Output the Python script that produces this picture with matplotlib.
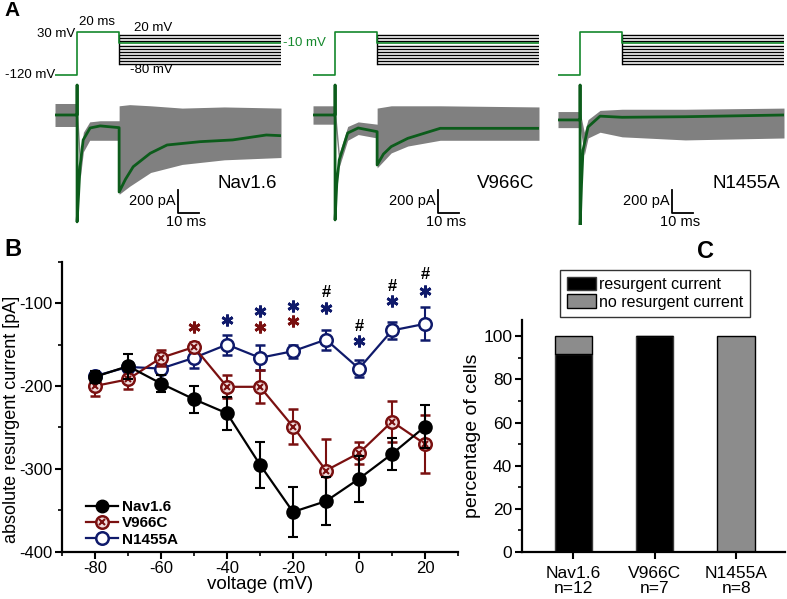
import matplotlib
matplotlib.use('Agg')
import matplotlib.pyplot as plt
from matplotlib.lines import Line2D
from matplotlib.legend_handler import HandlerTuple
from matplotlib.ticker import MultipleLocator

plt.rcParams['font.family'] = ['Liberation Sans', 'DejaVu Sans']
plt.rcParams['axes.unicode_minus'] = False

# ---------------- data: panel A (traces, keypoints) ----------
construct_names = ['Nav1.6', 'V966C', 'N1455A']
tail_levels = [20, 10, 0, -10, -20, -30, -40, -50, -60, -70, -80]
hold_mv = -120
prepulse_mv = 30
prepulse_ms = 20
green_level = -10

nav_green_t = [-10.5, 0, 0, 0, 0.7, 1.4, 2.9, 6.2, 11, 20, 20, 23, 26.7, 34.8, 42.8, 58.6, 74, 90, 97]
nav_green_i = [0, 0, 260, -930, -700, -450, -217, -113, -95, -110, -670, -560, -450, -333, -261, -232, -217, -174, -180]
nav_gray_t = [-10.5, 0, 0.01, 1.5, 3, 6, 11, 20, 20.01, 25, 35, 50, 70, 97]
nav_gray_hi = [100, 100, 100, -350, -150, -60, -50, -50, 80, 90, 80, 60, 70, 60]
nav_gray_lo = [-100, -100, -100, -550, -320, -220, -220, -220, -690, -620, -500, -430, -390, -370]

v9_green_t = [-10.5, 0, 0, 0, 0.8, 2, 6, 11, 20, 20, 23, 26.7, 34.6, 50, 74, 97]
v9_green_i = [0, 0, 260, -913, -600, -390, -157, -113, -145, -435, -340, -275, -203, -116, -116, -116]
v9_gray_t = [-10.5, 0, 0.01, 2, 6, 11, 20, 20.01, 26.7, 34.6, 50, 97]
v9_gray_hi = [80, 80, 80, -330, -100, -60, -80, 60, 80, 80, 80, 70]
v9_gray_lo = [-80, -80, -80, -450, -220, -170, -200, -460, -330, -270, -220, -220]

n14_green_t = [-10.5, 0, 0, 0, 0.7, 1.4, 3.8, 9.5, 20, 50, 97]
n14_green_i = [-43, -43, 260, -983, -600, -305, -104, -10, -20, -15, 0]
n14_gray_t = [-10.5, 0, 0.01, 2, 3.8, 9.5, 20, 50, 97]
n14_gray_hi = [30, 30, 30, -150, -40, 40, 50, 50, 60]
n14_gray_lo = [-110, -110, -110, -350, -200, -150, -190, -217, -200]

scalebar_t = [48, 49, 43.6]

# ---------------- data: panel B ----------------
voltage = [-80, -70, -60, -50, -40, -30, -20, -10, 0, 10, 20]
nav16 = [-189, -176, -197, -216, -233, -295, -352, -339, -312, -282, -249]
nav16_err = [7, 15, 10, 16, 20, 28, 30, 29, 28, 19, 26]
v966c = [-200, -192, -166, -153, -201, -201, -249, -302, -281, -243, -270]
v966c_err = [12, 12, 10, 6, 14, 20, 21, 38, 13, 25, 35]
n1455a = [-188, -177, -179, -166, -150, -166, -158, -144, -179, -133, -125]
n1455a_err = [5, 6, 6, 12, 12, 15, 8, 12, 10, 10, 20]

star_blue_x = [-40, -30, -20, -10, 0, 10, 20]
star_blue_y = [-120, -110, -104, -106, -146, -98, -85]
star_red_x = [-50, -30, -20]
star_red_y = [-129, -129, -122]
hash_x = [-10, 0, 10, 20]
hash_y = [-87, -128, -80, -66]

# ---------------- data: panel C ----------------
c_categories = ['Nav1.6\nn=12', 'V966C\nn=7', 'N1455A\nn=8']
c_resurgent = [91.7, 100, 0]
c_no_resurgent = [8.3, 0, 100]

# ---------------- styling ----------------
GREEN = '#14882c'
GREEN_TR = '#0c5c1b'
GRAY = '#808080'
RED = '#7a1010'
NAVY = '#0f1a6b'

W, H = 787, 599
fig = plt.figure(figsize=(W / 100, H / 100), dpi=100)


def fx(px):
    return px / W


def fh(py):
    return py / H


def fy(py):
    return 1 - py / H


# ---------------- Panel A ----------------
lefts = [55, 313, 558]
greens = [(nav_green_t, nav_green_i), (v9_green_t, v9_green_i), (n14_green_t, n14_green_i)]
grays = [(nav_gray_t, nav_gray_hi, nav_gray_lo), (v9_gray_t, v9_gray_hi, v9_gray_lo),
         (n14_gray_t, n14_gray_hi, n14_gray_lo)]
t_end = 97
t_start = -10.5
for k, L in enumerate(lefts):
    axp = fig.add_axes([fx(L), fy(80), fx(226), fh(65)])
    axp.set_xlim(t_start, t_end)
    axp.set_ylim(-137.4, 89.2)
    axp.axis('off')
    for lv in tail_levels:
        if lv != green_level:
            axp.plot([prepulse_ms, t_end], [lv, lv], color='black', lw=1.0, solid_capstyle='butt')
    axp.plot([prepulse_ms, prepulse_ms], [max(tail_levels), min(tail_levels)], color='black', lw=1.0)
    axp.plot([t_start, 0, 0, prepulse_ms, prepulse_ms, t_end],
             [hold_mv, hold_mv, prepulse_mv, prepulse_mv, green_level, green_level],
             color=GREEN, lw=1.2)
    if k == 0:
        axp.text(-1, 24, '30 mV', ha='right', va='center', fontsize=9.5)
        axp.text(9.5, 66, '20 ms', ha='center', va='center', fontsize=9.5)
        axp.text(36, 44, '20 mV', ha='center', va='center', fontsize=9.5)
        axp.text(35.5, -103, '-80 mV', ha='center', va='center', fontsize=9.5)
        axp.text(t_start, hold_mv, '-120 mV', ha='right', va='center', fontsize=9.5)
        axp.text(98, green_level, '-10 mV', ha='left', va='center', fontsize=9.5, color=GREEN)

    axc = fig.add_axes([fx(L), fy(225), fx(226), fh(143)])
    axc.set_xlim(t_start, t_end)
    axc.set_ylim(-957, 287)
    axc.axis('off')
    gt, ghi, glo = grays[k]
    axc.fill_between(gt, glo, ghi, color=GRAY, lw=0)
    tt, ii = greens[k]
    axc.plot(tt, ii, color=GREEN_TR, lw=2.0)
    axc.text(95, -592, construct_names[k], ha='right', va='center', fontsize=13.5)
    sb = scalebar_t[k]
    axc.plot([sb, sb, sb + 10], [-652, -852, -852], color='black', lw=1.3)
    axc.text(sb - 1, -745, '200 pA', ha='right', va='center', fontsize=10.5)
    axc.text(sb + 4, -935, '10 ms', ha='center', va='center', fontsize=10.5)

fig.text(fx(4), fy(10), 'A', fontsize=15, fontweight='bold', va='center', ha='left')

# ---------------- Panel B ----------------
axb = fig.add_axes([fx(62), fy(551.7), fx(396), fh(290)])
mk = 9
axb.errorbar(voltage, n1455a, yerr=n1455a_err, color=NAVY, marker='o', ms=mk, mfc='white',
             mew=1.8, lw=1.6, capsize=3.5, capthick=1.5, elinewidth=1.5, zorder=2)
axb.errorbar(voltage, v966c, yerr=v966c_err, color=RED, marker='o', ms=mk, mfc='#f2dede',
             mew=1.8, lw=1.6, capsize=3.5, capthick=1.5, elinewidth=1.5, zorder=3)
axb.plot(voltage, v966c, ls='none', marker='x', color=RED, ms=5, mew=1.5, zorder=4)
axb.errorbar(voltage, nav16, yerr=nav16_err, color='black', marker='o', ms=mk,
             mew=1.5, lw=1.6, capsize=3.5, capthick=1.5, elinewidth=1.5, zorder=5)

axb.plot(star_blue_x, star_blue_y, ls='none', marker=(6, 2, 0), ms=8.5, mew=2.0, color=NAVY)
axb.plot(star_red_x, star_red_y, ls='none', marker=(6, 2, 0), ms=8.5, mew=2.0, color=RED)
for hx, hy in zip(hash_x, hash_y):
    axb.text(hx, hy, '#', ha='center', va='center', fontsize=12, fontweight='bold')

axb.set_xlim(-90, 30)
axb.set_ylim(-400, -50)
axb.xaxis.set_major_locator(MultipleLocator(20))
axb.xaxis.set_minor_locator(MultipleLocator(10))
axb.yaxis.set_major_locator(MultipleLocator(100))
axb.yaxis.set_minor_locator(MultipleLocator(50))
for s in ['top', 'right']:
    axb.spines[s].set_visible(False)
for s in ['left', 'bottom']:
    axb.spines[s].set_linewidth(1.6)
axb.tick_params(which='major', direction='out', length=5, width=1.5, labelsize=12, pad=2)
axb.tick_params(which='minor', direction='out', length=3, width=1.2)
axb.set_xlabel('voltage (mV)', fontsize=13.5, labelpad=0)
axb.set_ylabel('absolute resurgent current [pA]', fontsize=13)
axb.yaxis.set_label_coords(-0.107, 0.455)

h_nav = Line2D([], [], color='black', marker='o', ms=mk, lw=1.6)
h_v1 = Line2D([], [], color=RED, marker='o', ms=mk, mfc='#f2dede', mew=1.8, lw=1.6)
h_v2 = Line2D([], [], color=RED, marker='x', ms=5, mew=1.5, ls='none')
h_n = Line2D([], [], color=NAVY, marker='o', ms=mk, mfc='white', mew=1.8, lw=1.6)
axb.legend([h_nav, (h_v1, h_v2), h_n], construct_names, loc='lower left',
           bbox_to_anchor=(0.025, -0.03), frameon=False, handlelength=2.1, handletextpad=0.25,
           labelspacing=0.15, prop={'weight': 'bold', 'size': 11},
           handler_map={tuple: HandlerTuple(ndivide=1)})

fig.text(fx(4), fy(249), 'B', fontsize=17, fontweight='bold', va='center', ha='left')

# ---------------- Panel C ----------------
axcc = fig.add_axes([fx(522), fy(552), fx(263), fh(232)])
pos = list(range(1, len(c_categories) + 1))
axcc.bar(pos, c_resurgent, width=0.46, color='black', edgecolor='#3a3a3a', lw=1.0,
         label='resurgent current')
axcc.bar(pos, c_no_resurgent, width=0.46, bottom=c_resurgent, color='#8c8c8c',
         edgecolor='black', lw=1.0, label='no resurgent current')
axcc.set_xlim(0.37, 3.6)
axcc.set_ylim(0, 107.5)
axcc.set_xticks(pos)
axcc.set_xticklabels(c_categories, fontsize=12.5, linespacing=1.05)
axcc.yaxis.set_major_locator(MultipleLocator(20))
axcc.yaxis.set_minor_locator(MultipleLocator(10))
for s in ['top', 'right']:
    axcc.spines[s].set_visible(False)
for s in ['left', 'bottom']:
    axcc.spines[s].set_linewidth(1.6)
axcc.tick_params(which='major', direction='out', length=5, width=1.5, labelsize=12.5, pad=2)
axcc.tick_params(axis='x', which='major', pad=5)
axcc.tick_params(which='minor', direction='out', length=3, width=1.2)
axcc.set_ylabel('percentage of cells', fontsize=14, labelpad=2)
leg = axcc.legend(loc='lower center', bbox_to_anchor=(0.506, 1.0), fancybox=False,
                  edgecolor='black', fontsize=11.5, handlelength=1.8, handleheight=0.9,
                  handletextpad=0.2, labelspacing=0.15, borderpad=0.45, borderaxespad=0.2)
leg.get_frame().set_linewidth(1.0)

fig.text(fx(697), fy(251), 'C', fontsize=17, fontweight='bold', va='center', ha='left')

fig.savefig('out.png', dpi=100)
